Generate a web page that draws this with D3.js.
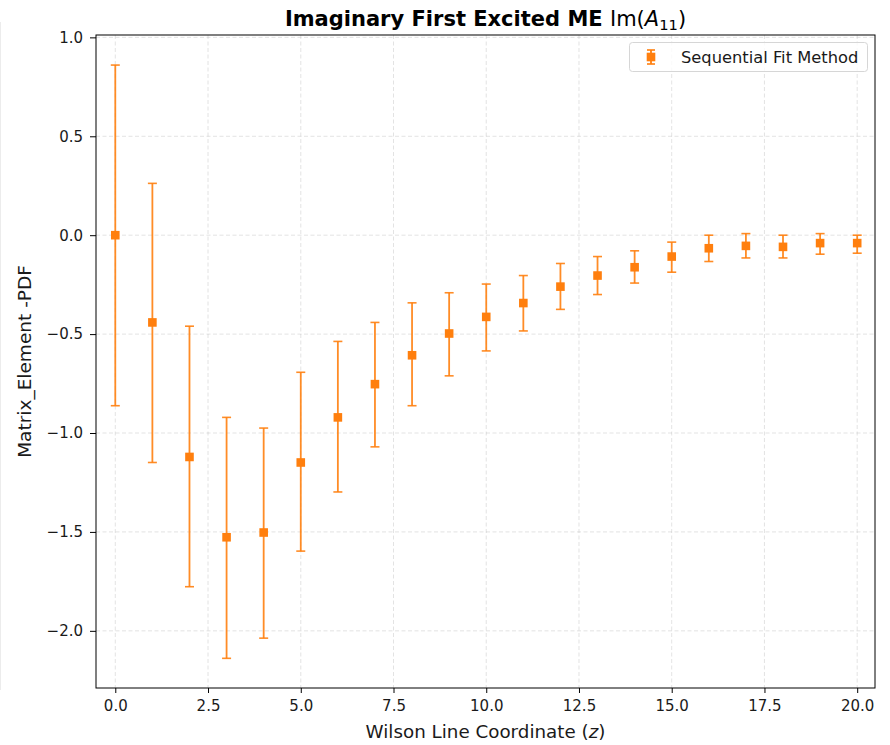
<!DOCTYPE html>
<html>
<head>
<meta charset="utf-8">
<script src="https://cdn.jsdelivr.net/npm/d3@7"></script>
<style>
  html, body { margin: 0; padding: 0; background: #fff; }
  svg { display: block; font-family: "DejaVu Sans", sans-serif; }
</style>
</head>
<body>
<svg id="chart" width="890" height="745"></svg>
<script>
// Wilson line coordinate z
const zValues = [0, 1, 2, 3, 4, 5, 6, 7, 8, 9, 10, 11, 12, 13, 14, 15, 16, 17, 18, 19, 20];
// Central values of Im(A11)
const meanValues = [0.000, -0.441, -1.121, -1.527, -1.503, -1.149, -0.921, -0.753, -0.607, -0.497, -0.413, -0.343, -0.260, -0.204, -0.162, -0.108, -0.066, -0.054, -0.059, -0.040, -0.040];
// Upper and lower error bar ends
const upperValues = [0.860, 0.262, -0.460, -0.921, -0.975, -0.693, -0.537, -0.441, -0.342, -0.291, -0.247, -0.204, -0.143, -0.108, -0.079, -0.035, 0.000, 0.008, 0.000, 0.008, 0.000];
const lowerValues = [-0.862, -1.149, -1.777, -2.139, -2.037, -1.597, -1.298, -1.070, -0.862, -0.711, -0.585, -0.484, -0.375, -0.300, -0.242, -0.187, -0.133, -0.115, -0.115, -0.096, -0.091];
const xTicks = [0, 2.5, 5, 7.5, 10, 12.5, 15, 17.5, 20];
const yTicks = [-2.0, -1.5, -1.0, -0.5, 0.0, 0.5, 1.0];

const color = "#ff7f0e";
const svg = d3.select("#chart");
const plotLeft = 96, plotRight = 875, plotTop = 35, plotBottom = 688;

const x = d3.scaleLinear().domain([-0.52, 20.48]).range([plotLeft, plotRight]);
const y = d3.scaleLinear().domain([-2.289, 1.012]).range([plotBottom, plotTop]);

// faint figure edge
svg.append("line").attr("x1", 0.5).attr("x2", 0.5).attr("y1", 22).attr("y2", 690)
  .attr("stroke", "#ececec").attr("stroke-width", 1);

// grid
const grid = svg.append("g");
grid.selectAll(".gx").data(xTicks).join("line")
  .attr("x1", d => x(d)).attr("x2", d => x(d)).attr("y1", plotTop).attr("y2", plotBottom)
  .attr("stroke", "#b0b0b0").attr("stroke-opacity", 0.45).attr("stroke-width", 0.8)
  .attr("stroke-dasharray", "4,2.5");
grid.selectAll(".gy").data(yTicks).join("line")
  .attr("y1", d => y(d)).attr("y2", d => y(d)).attr("x1", plotLeft).attr("x2", plotRight)
  .attr("stroke", "#b0b0b0").attr("stroke-opacity", 0.45).attr("stroke-width", 0.8)
  .attr("stroke-dasharray", "4,2.5");

// axes
const fmt = d => d3.format(".1f")(d).replace("-", "\u2212");
const xAxis = svg.append("g").attr("transform", `translate(0,${plotBottom})`)
  .call(d3.axisBottom(x).tickValues(xTicks).tickFormat(fmt).tickSize(5).tickPadding(7));
const yAxis = svg.append("g").attr("transform", `translate(${plotLeft},0)`)
  .call(d3.axisLeft(y).tickValues(yTicks).tickFormat(fmt).tickSize(6).tickPadding(7));
[xAxis, yAxis].forEach(a => {
  a.select(".domain").remove();
  a.selectAll("line").attr("stroke", "#000").attr("stroke-width", 1);
  a.selectAll("text").attr("font-family", "DejaVu Sans").attr("font-size", 15).attr("fill", "#1a1a1a");
});

// frame
svg.append("rect").attr("x", plotLeft).attr("y", plotTop)
  .attr("width", plotRight - plotLeft).attr("height", plotBottom - plotTop)
  .attr("fill", "none").attr("stroke", "#000").attr("stroke-width", 1);

// error bars
const data = zValues.map((z, i) => ({ z, m: meanValues[i], hi: upperValues[i], lo: lowerValues[i] }));
const bars = svg.append("g");
bars.selectAll(".v").data(data).join("line")
  .attr("x1", d => x(d.z)).attr("x2", d => x(d.z))
  .attr("y1", d => y(d.hi)).attr("y2", d => y(d.lo))
  .attr("stroke", color).attr("stroke-width", 1.8).attr("stroke-opacity", 0.9);
["hi", "lo"].forEach(k => {
  bars.append("g").selectAll("line").data(data).join("line")
    .attr("x1", d => x(d.z) - 4.5).attr("x2", d => x(d.z) + 4.5)
    .attr("y1", d => y(d[k])).attr("y2", d => y(d[k]))
    .attr("stroke", color).attr("stroke-width", 1.6).attr("stroke-opacity", 0.9);
});
bars.append("g").selectAll("rect").data(data).join("rect")
  .attr("x", d => x(d.z) - 4.3).attr("y", d => y(d.m) - 4.3)
  .attr("width", 8.6).attr("height", 8.6).attr("fill", color);

// title
const title = svg.append("text").attr("x", (plotLeft + plotRight) / 2).attr("y", 26)
  .attr("text-anchor", "middle").attr("font-size", 21).attr("fill", "#000");
title.append("tspan").attr("font-weight", "bold").text("Imaginary First Excited ME ");
title.append("tspan").text("Im(");
title.append("tspan").attr("font-style", "italic").text("A");
title.append("tspan").attr("font-size", 14.7).attr("dy", 3.5).text("11");
title.append("tspan").attr("dy", -3.5).text(")");

// axis labels
const xl = svg.append("text").attr("x", (plotLeft + plotRight) / 2).attr("y", 738)
  .attr("text-anchor", "middle").attr("font-size", 18.3).attr("fill", "#1a1a1a");
xl.append("tspan").text("Wilson Line Coordinate (");
xl.append("tspan").attr("font-style", "italic").text("z");
xl.append("tspan").text(")");
svg.append("text").attr("transform", `translate(31,${(plotTop + plotBottom) / 2}) rotate(-90)`)
  .attr("text-anchor", "middle").attr("font-size", 18.5).attr("fill", "#1a1a1a")
  .text("Matrix_Element -PDF");

// legend
const lg = svg.append("g");
lg.append("rect").attr("x", 629.5).attr("y", 42.5).attr("width", 238).attr("height", 29).attr("rx", 3)
  .attr("fill", "#fff").attr("fill-opacity", 0.8).attr("stroke", "#d6d6d6").attr("stroke-width", 1);
const lx = 651, ly = 57;
lg.append("line").attr("x1", lx).attr("x2", lx).attr("y1", ly - 7).attr("y2", ly + 7)
  .attr("stroke", color).attr("stroke-width", 1.8);
[ly - 7, ly + 7].forEach(v => lg.append("line").attr("x1", lx - 4).attr("x2", lx + 4)
  .attr("y1", v).attr("y2", v).attr("stroke", color).attr("stroke-width", 1.6));
lg.append("rect").attr("x", lx - 4.3).attr("y", ly - 4.3).attr("width", 8.6).attr("height", 8.6).attr("fill", color);
lg.append("text").attr("x", 681).attr("y", ly + 5.5).attr("font-size", 16.3).attr("fill", "#1a1a1a")
  .text("Sequential Fit Method");
</script>
</body>
</html>
